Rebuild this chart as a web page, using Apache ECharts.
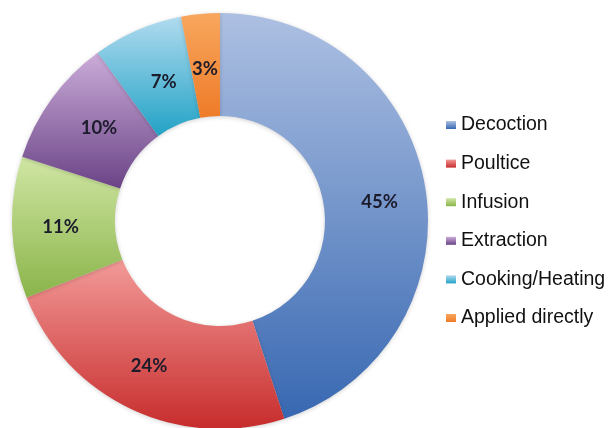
<!DOCTYPE html>
<html>
<head>
<meta charset="utf-8">
<script src="https://cdn.jsdelivr.net/npm/echarts@6/dist/echarts.min.js"></script>
<style>
  html, body { margin: 0; padding: 0; background: #ffffff; }
  #chart { width: 611px; height: 428px; }
</style>
</head>
<body>
<div id="chart"></div>
<script>
// Preparation methods and their share of uses (%)
const categories = ['Decoction', 'Poultice', 'Infusion', 'Extraction', 'Cooking/Heating', 'Applied directly'];
const shares = [45, 24, 11, 10, 7, 3];

// Top and bottom colours of each slice's vertical gradient
const topColors = ['#adc0e2', '#f29a98', '#d0e6a4', '#cbacd9', '#b0dbef', '#f8a75e'];
const bottomColors = ['#3868b2', '#c72c2c', '#8ab44a', '#6a4386', '#22a2c6', '#ee7b28'];

// Small nudges for the percentage labels inside the ring
const labelNudges = [[2, 6], [-3, 1], [0, 1], [8, 1], [7, 7], [0, 7]];

function gradient(i) {
  return new echarts.graphic.LinearGradient(0, 0, 0, 1, [
    { offset: 0, color: topColors[i] },
    { offset: 1, color: bottomColors[i] }
  ]);
}

const chart = echarts.init(document.getElementById('chart'), null, { renderer: 'canvas' });

chart.setOption({
  backgroundColor: '#ffffff',
  animation: false,
  legend: {
    orient: 'vertical',
    left: 446,
    top: 115,
    padding: 0,
    itemGap: 18.6,
    itemWidth: 10,
    itemHeight: 8,
    icon: 'rect',
    data: categories,
    textStyle: {
      fontFamily: 'Liberation Sans, Arial, sans-serif',
      fontSize: 19.5,
      lineHeight: 20,
      color: '#111111'
    }
  },
  series: [{
    type: 'pie',
    center: [220, 221],
    radius: [105, 208],
    startAngle: 90,
    clockwise: true,
    avoidLabelOverlap: false,
    itemStyle: {
      borderWidth: 0,
      shadowBlur: 4,
      shadowColor: 'rgba(0,0,0,0.18)',
      shadowOffsetY: 1
    },
    label: {
      show: true,
      position: 'inside',
      formatter: '{c}%',
      fontFamily: 'Lato, "Open Sans", sans-serif',
      fontWeight: 'bold',
      fontSize: 18.5,
      color: '#1b1b2b'
    },
    labelLine: { show: false },
    emphasis: { disabled: true },
    data: categories.map((name, i) => ({
      name: name,
      value: shares[i],
      itemStyle: { color: gradient(i) },
      label: { offset: labelNudges[i] }
    }))
  }]
});
</script>
</body>
</html>
